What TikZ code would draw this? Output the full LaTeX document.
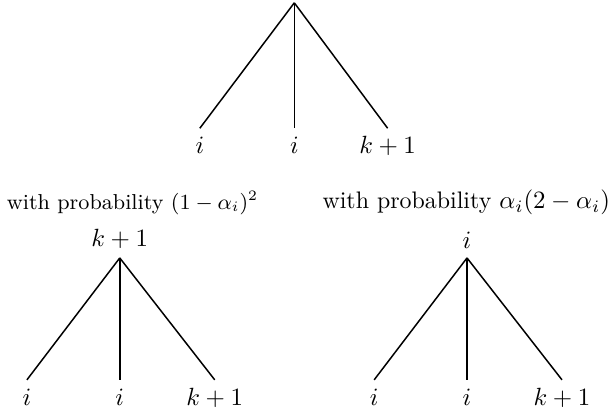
\documentclass[tikz,border=0pt]{standalone}
\usepackage{amsmath,amssymb}
\usepackage{tikz}
\usetikzlibrary{positioning}

\begin{document}
\begin{tikzpicture}[leaf/.style={inner sep=3.5pt,anchor=north,text height=1.5ex,text depth=.25ex},edge/.style={line width=0.6pt},lprob/.style={font=\small,scale=0.963,transform shape},rprob/.style={font=\fontsize{9.6}{11}\selectfont}]
\useasboundingbox (0,0) rectangle (8.65,-5.87);
% top tree
\coordinate (top) at (4.153,-0.04);
\node[leaf] (t1) at (2.82,-1.81) {$i$}; \node[leaf] (t2) at (4.153,-1.81) {$i$}; \node[leaf] (t3) at (5.47,-1.81) {$k+1$};
\draw[edge] (top) -- (t1.north); \draw[edge] (top) -- (t2.north); \draw[edge] (top) -- (t3.north);
% left tree
\node[lprob] (lp) at (1.87,-2.86) {with probability $(1-\alpha_i)^2$};
\coordinate (lroot) at (1.69,-3.64);
\node[above=0.09 of lroot,inner sep=1pt] (lr) {$k+1$};
\node[leaf] (l1) at (0.38,-5.36) {$i$}; \node[leaf] (l2) at (1.69,-5.36) {$i$}; \node[leaf] (l3) at (3.03,-5.36) {$k+1$};
\draw[edge] (lroot) -- (l1.north); \draw[edge] (lroot) -- (l2.north); \draw[edge] (lroot) -- (l3.north);
% right tree
\node[rprob] (rp) at (6.58,-2.86) {with probability $\alpha_i(2-\alpha_i)$};
\coordinate (rroot) at (6.59,-3.64);
\node[above=0.09 of rroot,inner sep=1pt] (rr) {$i$};
\node[leaf] (r1) at (5.28,-5.36) {$i$}; \node[leaf] (r2) at (6.59,-5.36) {$i$}; \node[leaf] (r3) at (7.93,-5.36) {$k+1$};
\draw[edge] (rroot) -- (r1.north); \draw[edge] (rroot) -- (r2.north); \draw[edge] (rroot) -- (r3.north);
\end{tikzpicture}
\end{document}
